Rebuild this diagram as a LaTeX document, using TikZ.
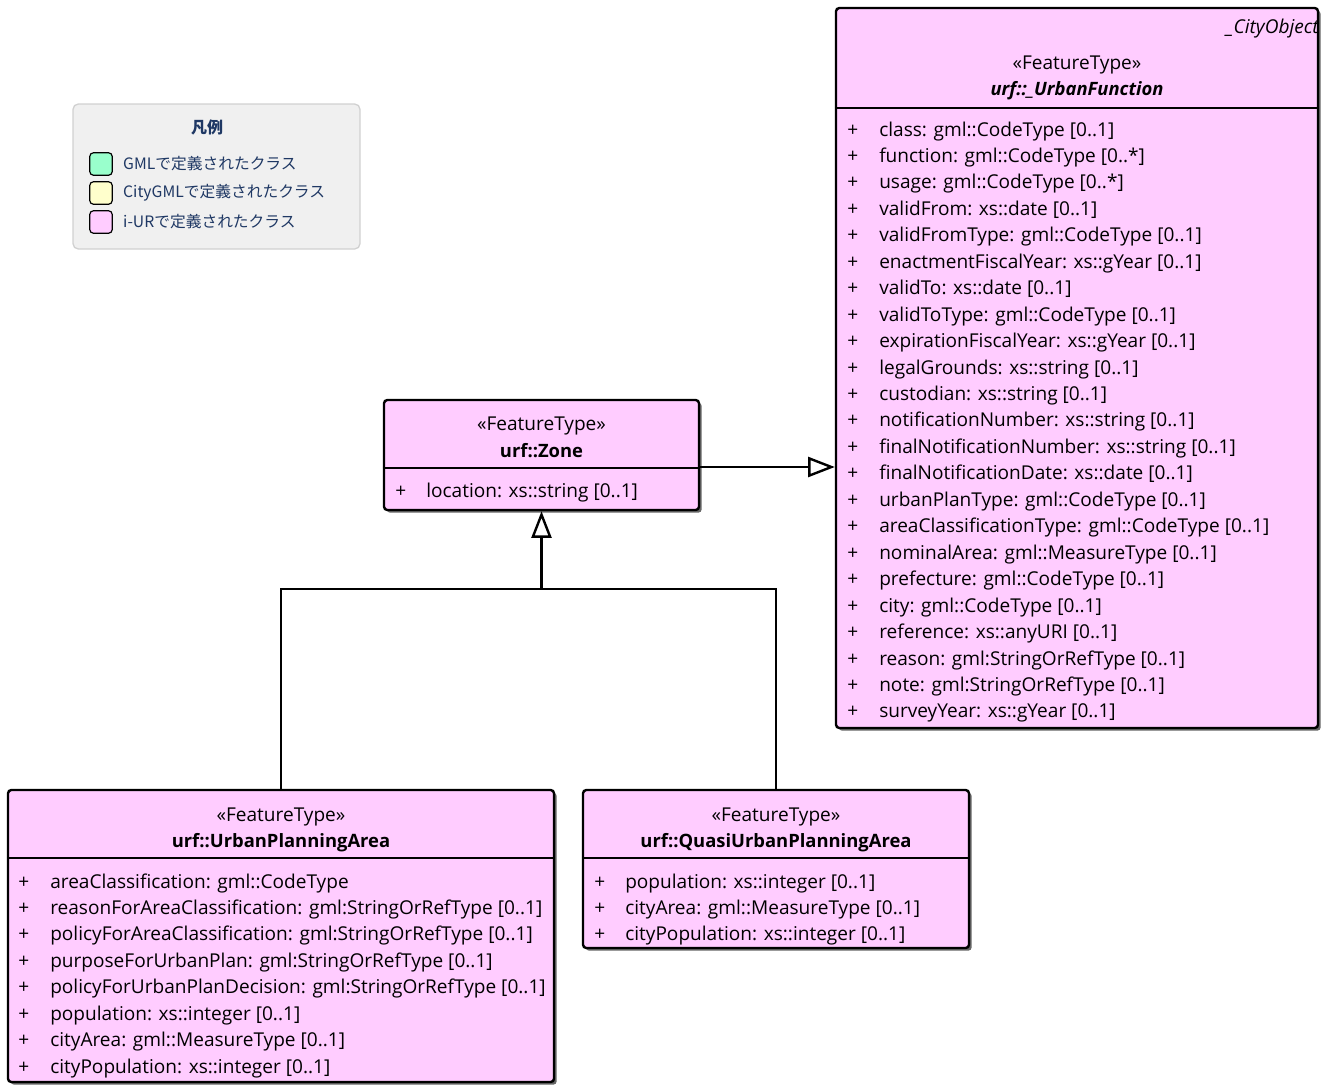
\documentclass[tikz,border=0pt]{standalone}
\usepackage{fontspec}
\setmainfont{Open Sans}
\newfontfamily\cjk{Noto Sans CJK JP}
\usetikzlibrary{arrows.meta,positioning,fit,shadows}
\definecolor{urfpink}{RGB}{255,204,255}
\definecolor{gmlgreen}{RGB}{153,255,204}
\definecolor{citygmlyellow}{RGB}{255,255,204}
\definecolor{legendgray}{RGB}{240,240,240}
\definecolor{legendtext}{RGB}{31,56,100}

\begin{document}
\begin{tikzpicture}[x=0.75pt,y=-0.75pt,font=\fontsize{14.3}{16}\selectfont,
   cls/.style={draw,line width=1.8pt,fill=urfpink,rounded corners=2.5pt,inner sep=0pt,
     drop shadow={shadow xshift=2pt,shadow yshift=-2pt,fill=black!60,opacity=1}},
   sep/.style={line width=1.8pt},
   attr/.style={anchor=base west,inner sep=0pt},
   head/.style={anchor=base,inner sep=0pt},
   swatch/.style={draw,line width=0.9pt,rounded corners=3pt,minimum size=17pt,inner sep=0pt},
   legtext/.style={inner sep=0pt,text=legendtext,font=\cjk\fontsize{11.8}{13}\selectfont},
   gen/.style={line width=1.8pt,-{Triangle[open,length=20pt,width=15pt]}}]
  \useasboundingbox (0,0) rectangle (1330,1085);

  % legend
  \node[draw=black!18,line width=1pt,fill=legendgray,rounded corners=4pt,inner sep=0pt,
        fit={(73,104) (360,249)}] (legend) {};
  \node[legtext,font=\cjk\bfseries\fontsize{12}{13}\selectfont] (legtitle) at (207,127) {凡例};
  \node[swatch,fill=gmlgreen]      (swgml)  at (101,164) {};
  \node[swatch,fill=citygmlyellow] (swcity) at (101,193) {};
  \node[swatch,fill=urfpink]       (swurf)  at (101,222) {};
  \node[legtext,right=7.5pt of swgml]  {GMLで定義されたクラス};
  \node[legtext,right=7.5pt of swcity] {CityGMLで定義されたクラス};
  \node[legtext,right=7.5pt of swurf]  {i-URで定義されたクラス};

  % urf::_UrbanFunction
  \node[cls,fit={(836,8) (1318,728)}] (uf) {};
  \draw[sep] (uf.west |- 0,108) -- (uf.east |- 0,108);
  \node[inner sep=0pt,anchor=base east,font=\fontsize{14.3}{16}\selectfont\itshape] at (1319,33) {\_CityObject};
  \node[head] at (1077,69) {«FeatureType»};
  \node[head,font=\fontsize{13.8}{16}\selectfont\bfseries\itshape] at (1077,95) {urf::\_UrbanFunction};
  \foreach \t [count=\i from 0] in {class: gml::CodeType [0..1],
      function: gml::CodeType [0..*], usage: gml::CodeType [0..*],
      validFrom: xs::date [0..1], validFromType: gml::CodeType [0..1],
      enactmentFiscalYear: xs::gYear [0..1], validTo: xs::date [0..1],
      validToType: gml::CodeType [0..1], expirationFiscalYear: xs::gYear [0..1],
      legalGrounds: xs::string [0..1], custodian: xs::string [0..1],
      notificationNumber: xs::string [0..1], finalNotificationNumber: xs::string [0..1],
      finalNotificationDate: xs::date [0..1], urbanPlanType: gml::CodeType [0..1],
      areaClassificationType: gml::CodeType [0..1], nominalArea: gml::MeasureType [0..1],
      prefecture: gml::CodeType [0..1], city: gml::CodeType [0..1],
      reference: xs::anyURI [0..1], reason: gml:StringOrRefType [0..1],
      note: gml:StringOrRefType [0..1], surveyYear: xs::gYear [0..1]} {
    \node[attr] at (847,{136+26.45*\i}) {+};
    \node[attr] at (879,{136+26.45*\i}) {\t};
  }

  % urf::Zone
  \node[cls,fit={(384,400) (699,510)}] (zone) {};
  \draw[sep] (zone.west |- 0,468) -- (zone.east |- 0,468);
  \node[head] at (541.5,430) {«FeatureType»};
  \node[head,font=\fontsize{13.8}{16}\selectfont\bfseries] at (541.5,457) {urf::Zone};
  \node[attr] at (395,497) {+};
  \node[attr] at (426,497) {location: xs::string [0..1]};

  % urf::UrbanPlanningArea
  \node[cls,fit={(8,790) (554,1082)}] (upa) {};
  \draw[sep] (upa.west |- 0,858) -- (upa.east |- 0,858);
  \node[head] at (281,821) {«FeatureType»};
  \node[head,font=\fontsize{13.8}{16}\selectfont\bfseries] at (281,847) {urf::UrbanPlanningArea};
  \foreach \t [count=\i from 0] in {areaClassification: gml::CodeType,
      reasonForAreaClassification: gml:StringOrRefType [0..1],
      policyForAreaClassification: gml:StringOrRefType [0..1],
      purposeForUrbanPlan: gml:StringOrRefType [0..1],
      policyForUrbanPlanDecision: gml:StringOrRefType [0..1],
      population: xs::integer [0..1], cityArea: gml::MeasureType [0..1],
      cityPopulation: xs::integer [0..1]} {
    \node[attr] at (18,{888+26.45*\i}) {+};
    \node[attr] at (50,{888+26.45*\i}) {\t};
  }

  % urf::QuasiUrbanPlanningArea
  \node[cls,fit={(583,790) (969,948)}] (qupa) {};
  \draw[sep] (qupa.west |- 0,858) -- (qupa.east |- 0,858);
  \node[head] at (776,821) {«FeatureType»};
  \node[head,font=\fontsize{13.8}{16}\selectfont\bfseries] at (776,847) {urf::QuasiUrbanPlanningArea};
  \foreach \t [count=\i from 0] in {population: xs::integer [0..1],
      cityArea: gml::MeasureType [0..1], cityPopulation: xs::integer [0..1]} {
    \node[attr] at (594,{888+26.45*\i}) {+};
    \node[attr] at (625,{888+26.45*\i}) {\t};
  }

  % generalizations
  \coordinate (joint) at (zone.south |- 0,589);
  \draw[sep] (upa.north) |- (joint) -| (qupa.north);
  \draw[gen] (joint) -- (zone.south);
  \draw[gen] (zone.east |- 0,467) -- (uf.west |- 0,467);
\end{tikzpicture}
\end{document}
